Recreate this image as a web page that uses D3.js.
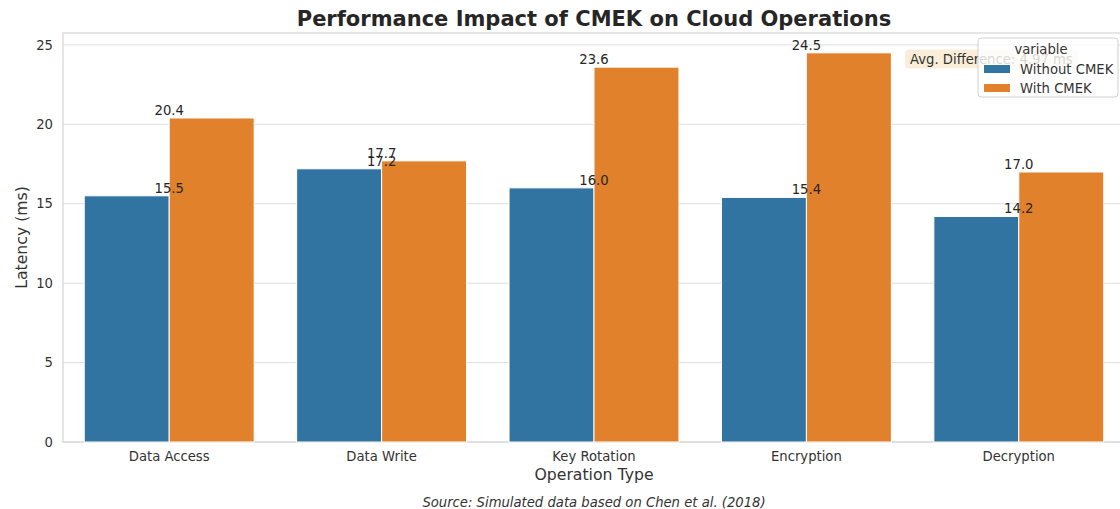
<!DOCTYPE html>
<html>
<head>
<meta charset="utf-8">
<script src="https://cdn.jsdelivr.net/npm/d3@7"></script>
<style>
  body { margin: 0; background: #fff; }
  svg { font-family: "DejaVu Sans", sans-serif; }
</style>
</head>
<body>
<svg id="chart" width="1120" height="509"></svg>
<script>
const categories = ["Data Access", "Data Write", "Key Rotation", "Encryption", "Decryption"];
const series = ["Without CMEK", "With CMEK"];
const withoutCmek = [15.5, 17.2, 16.0, 15.4, 14.2];
const withCmek = [20.4, 17.7, 23.6, 24.5, 17.0];
const yTicks = [0, 5, 10, 15, 20, 25];
const avgText = "Avg. Difference: 4.97 ms";

const colors = { "Without CMEK": "#3274a1", "With CMEK": "#e1812c" };
const small = "13.2px";

const margin = { top: 33, right: -5, bottom: 67, left: 63 },
    width = 1120 - margin.left - margin.right,
    height = 509 - margin.top - margin.bottom;

const svg = d3.select("#chart");
const g = svg.append("g")
    .attr("transform", `translate(${margin.left}, ${margin.top})`);

const x = d3.scaleBand()
    .domain(categories)
    .range([0, width])
    .paddingInner(0.2)
    .paddingOuter(0.1);

const xSub = d3.scaleBand()
    .domain(series)
    .range([0, x.bandwidth()]);

const y = d3.scaleLinear()
    .domain([0, 25.75])
    .range([height, 0]);

// grid
g.selectAll("line.grid")
    .data(yTicks)
    .join("line")
    .attr("class", "grid")
    .attr("x1", 0)
    .attr("x2", width)
    .attr("y1", d => y(d))
    .attr("y2", d => y(d))
    .attr("stroke", "#dedede")
    .attr("stroke-width", 1);

// spines
g.append("rect")
    .attr("x", 0).attr("y", 0)
    .attr("width", width).attr("height", height)
    .attr("fill", "none")
    .attr("stroke", "#d6d6d6")
    .attr("stroke-width", 1.2);

// data table
const rows = [];
categories.forEach((c, i) => {
    rows.push({ cat: c, s: "Without CMEK", v: withoutCmek[i] });
    rows.push({ cat: c, s: "With CMEK", v: withCmek[i] });
});

g.selectAll("rect.bar")
    .data(rows)
    .join("rect")
    .attr("class", "bar")
    .attr("x", d => x(d.cat) + xSub(d.s))
    .attr("y", d => y(d.v))
    .attr("width", xSub.bandwidth())
    .attr("height", d => height - y(d.v))
    .attr("fill", d => colors[d.s])
    .attr("stroke", "#ffffff")
    .attr("stroke-width", 1);

// value labels at category center
g.selectAll("text.val")
    .data(rows)
    .join("text")
    .attr("class", "val")
    .attr("x", d => x(d.cat) + x.bandwidth() / 2)
    .attr("y", d => y(d.v) - 3)
    .attr("text-anchor", "middle")
    .attr("font-size", small)
    .attr("fill", "#262626")
    .text(d => d.v.toFixed(1));

// y axis labels
g.selectAll("text.ytick")
    .data(yTicks)
    .join("text")
    .attr("class", "ytick")
    .attr("x", -10)
    .attr("y", d => y(d))
    .attr("dy", "0.35em")
    .attr("text-anchor", "end")
    .attr("font-size", small)
    .attr("fill", "#333")
    .text(d => d);

// x axis labels
g.selectAll("text.xtick")
    .data(categories)
    .join("text")
    .attr("class", "xtick")
    .attr("x", d => x(d) + x.bandwidth() / 2)
    .attr("y", height + 14)
    .attr("dy", "0.35em")
    .attr("text-anchor", "middle")
    .attr("font-size", small)
    .attr("fill", "#333")
    .text(d => d);

// axis titles
svg.append("text")
    .attr("x", margin.left + width / 2)
    .attr("y", 480)
    .attr("text-anchor", "middle")
    .attr("font-size", "15.7px")
    .attr("fill", "#333")
    .text("Operation Type");

svg.append("text")
    .attr("transform", `translate(27, ${margin.top + height / 2}) rotate(-90)`)
    .attr("text-anchor", "middle")
    .attr("font-size", "15.7px")
    .attr("fill", "#333")
    .text("Latency (ms)");

// title
svg.append("text")
    .attr("x", margin.left + width / 2)
    .attr("y", 26)
    .attr("text-anchor", "middle")
    .attr("font-size", "21px")
    .attr("font-weight", "bold")
    .attr("fill", "#262626")
    .text("Performance Impact of CMEK on Cloud Operations");

// source note
svg.append("text")
    .attr("x", margin.left + width / 2)
    .attr("y", 507)
    .attr("text-anchor", "middle")
    .attr("font-size", small)
    .attr("font-style", "italic")
    .attr("fill", "#333")
    .text("Source: Simulated data based on Chen et al. (2018)");

// avg difference annotation
const ann = svg.append("g").attr("transform", "translate(910, 59)");
const annText = ann.append("text")
    .attr("x", 0)
    .attr("dy", "0.35em")
    .attr("font-size", small)
    .attr("fill", "#333")
    .text(avgText);
const bb = annText.node().getBBox();
ann.insert("rect", "text")
    .attr("x", bb.x - 5)
    .attr("y", bb.y - 2)
    .attr("width", bb.width + 10)
    .attr("height", bb.height + 4)
    .attr("rx", 4)
    .attr("fill", "#f5deb3")
    .attr("fill-opacity", 0.5);

// legend
const legend = svg.append("g").attr("transform", "translate(978, 38)");
legend.append("rect")
    .attr("width", 140)
    .attr("height", 59)
    .attr("rx", 3)
    .attr("fill", "#ffffff")
    .attr("fill-opacity", 0.8)
    .attr("stroke", "#d0d0d0");
legend.append("text")
    .attr("x", 63)
    .attr("y", 11)
    .attr("dy", "0.35em")
    .attr("text-anchor", "middle")
    .attr("font-size", small)
    .attr("fill", "#333")
    .text("variable");
series.forEach((s, i) => {
    legend.append("rect")
        .attr("x", 6)
        .attr("y", 27 + i * 19)
        .attr("width", 26)
        .attr("height", 8)
        .attr("fill", colors[s]);
    legend.append("text")
        .attr("x", 42)
        .attr("y", 31 + i * 19)
        .attr("dy", "0.35em")
        .attr("font-size", small)
        .attr("fill", "#333")
        .text(s);
});
</script>
</body>
</html>
